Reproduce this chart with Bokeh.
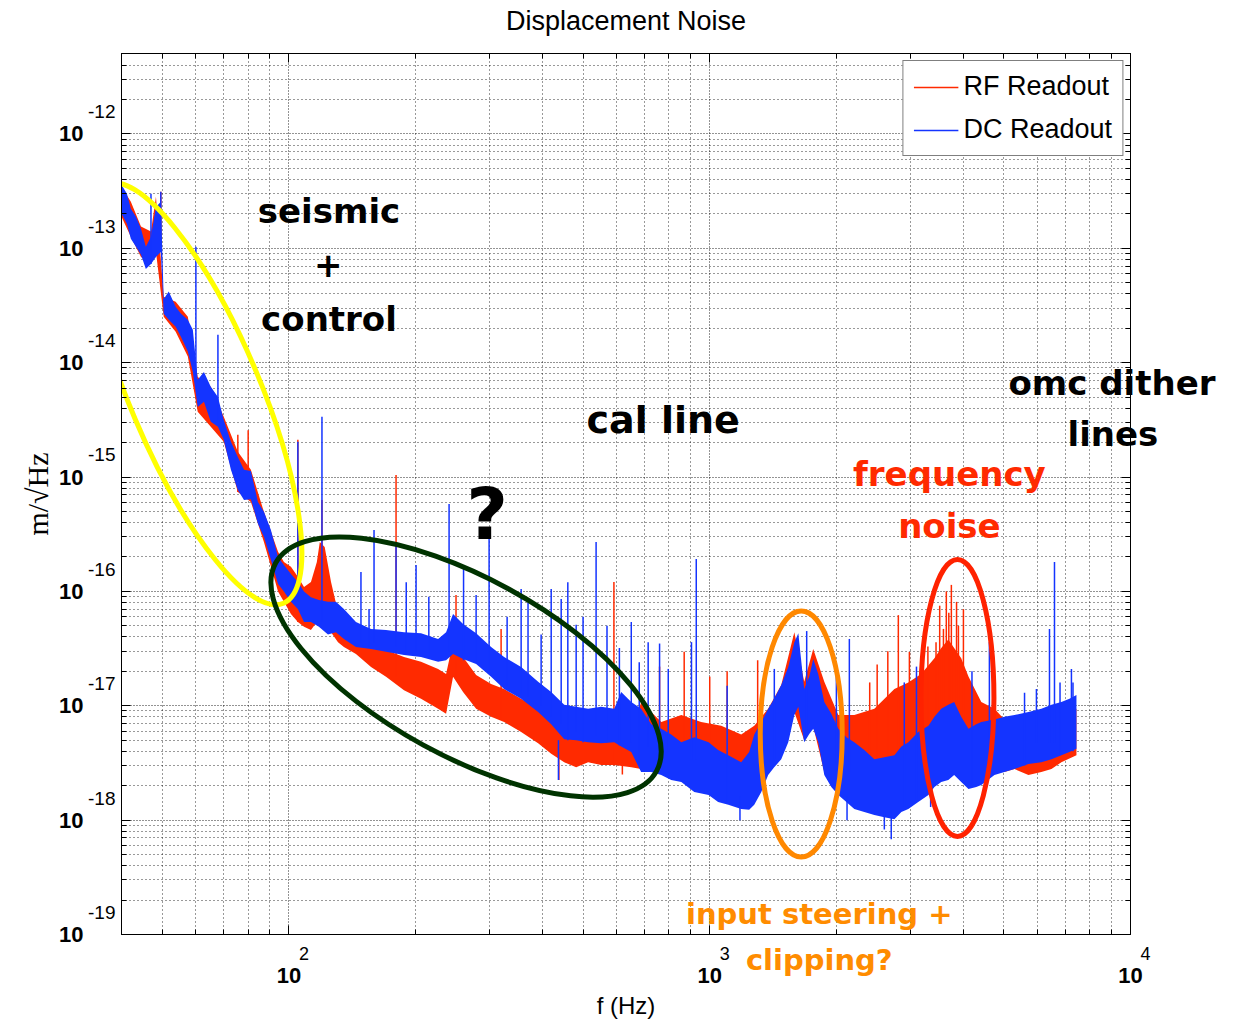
from bokeh.plotting import figure
from bokeh.models import (FixedTicker, LogAxis, Label, Legend, LegendItem,
                          CustomJSTickFormatter)
from bokeh.embed import file_html
from bokeh.resources import INLINE

# ---------------- data ----------------
x_start, x_end = 40.0, 1.0e4
y_start, y_end = 1.0e-19, 5.05e-12

x_major = [1e2, 1e3, 1e4]
x_exp = ["2", "3", "4"]
y_major = [1e-19, 1e-18, 1e-17, 1e-16, 1e-15, 1e-14, 1e-13, 1e-12]
y_exp = ["-19", "-18", "-17", "-16", "-15", "-14", "-13", "-12"]

# DC readout (blue): noise envelope
blue_f = [40.0, 41.2, 42.1, 43.3, 44.5, 45.7, 47.0, 48.3, 49.6, 50.4,
          51.8, 53.8, 55.4, 57.5, 59.1, 60.7, 62.8, 65.2, 67.8, 70.0,
          72.8, 75.6, 78.2, 81.2, 84.4, 87.2, 90.6, 94.2, 97.3, 101.1,
          105, 108.6, 112.8, 117.8, 123.8, 129.3, 135.1, 144.3, 156.7, 170.1,
          187.7, 206, 226.2, 236.3, 245.5, 259.3, 278.5, 302.3, 324.6, 356.3,
          391, 420, 451, 481.5, 514, 552, 593, 616, 651, 687,
          726, 767, 810, 856, 919, 994, 1047, 1107, 1188, 1241,
          1276, 1326, 1377, 1423, 1479, 1537, 1589, 1624, 1677, 1724,
          1762, 1811, 1872, 1945, 2021, 2112, 2206, 2330, 2462, 2600,
          2747, 2854, 2965, 3130, 3310, 3420, 3550, 3690, 3810, 3960,
          4120, 4300, 4420, 4750, 5016, 5300, 5720, 6140, 6490, 6850,
          7160, 7440]
blue_hi = [3.6e-13, 3.0e-13, 2.22e-13, 1.89e-13, 1.48e-13, 1.03e-13, 1.26e-13, 2.3e-13, 2.55e-13, 3.6e-14,
           4.2e-14, 3.08e-14, 2.68e-14, 2.37e-14, 1.94e-14, 7.1e-15, 8.3e-15, 6.15e-15, 5.0e-15, 3.16e-15,
           2.03e-15, 1.5e-15, 1.16e-15, 1.13e-15, 6.06e-16, 4.96e-16, 3.45e-16, 2.0e-16, 1.7e-16, 1.42e-16,
           1.21e-16, 1.0e-16, 8.9e-17, 8.4e-17, 8.1e-17, 8.1e-17, 7.0e-17, 5.4e-17, 4.7e-17, 4.6e-17,
           4.4e-17, 4.3e-17, 3.84e-17, 4.4e-17, 6.35e-17, 5.2e-17, 4.3e-17, 3.27e-17, 2.67e-17, 2.18e-17,
           1.62e-17, 1.32e-17, 1.02e-17, 9.8e-18, 9.4e-18, 9.8e-18, 9.4e-18, 1.32e-17, 1.08e-17, 9.4e-18,
           6.9e-18, 6.3e-18, 5.6e-18, 4.8e-18, 5.3e-18, 4.8e-18, 4.1e-18, 3.7e-18, 3.2e-18, 3.94e-18,
           5.6e-18, 7.2e-18, 9.4e-18, 1.15e-17, 1.52e-17, 2.18e-17, 3.6e-17, 4.3e-17, 1.4e-17, 1.79e-17,
           2.57e-17, 1.9e-17, 1.08e-17, 8.5e-18, 6.3e-18, 5.3e-18, 4.8e-18, 4.1e-18, 3.4e-18, 3.55e-18,
           3.7e-18, 4.4e-18, 4.8e-18, 5.9e-18, 6.7e-18, 8.0e-18, 9.4e-18, 1.02e-17, 1.08e-17, 8.0e-18,
           6.3e-18, 6.9e-18, 7.2e-18, 7.6e-18, 8.0e-18, 8.3e-18, 8.8e-18, 9.4e-18, 1.02e-17, 1.08e-17,
           1.15e-17, 1.24e-17]
blue_lo = [2.0e-13, 1.64e-13, 1.21e-13, 1.03e-13, 8.8e-14, 6.6e-14, 7.3e-14, 8.4e-14, 9.3e-14, 2.68e-14,
           2.37e-14, 2.06e-14, 1.68e-14, 1.25e-14, 8.3e-15, 4.1e-15, 4.55e-15, 3.04e-15, 2.75e-15, 2.12e-15,
           1.16e-15, 7.7e-16, 6.3e-16, 6.4e-16, 3.9e-16, 3.0e-16, 1.89e-16, 1.16e-16, 1.0e-16, 8.1e-17,
           7.0e-17, 5.4e-17, 5.4e-17, 4.9e-17, 4.2e-17, 4.4e-17, 3.84e-17, 3.27e-17, 3.14e-17, 2.96e-17,
           2.78e-17, 2.67e-17, 2.42e-17, 2.5e-17, 2.84e-17, 2.57e-17, 2.32e-17, 1.79e-17, 1.4e-17, 1.15e-17,
           8.8e-18, 6.9e-18, 5.1e-18, 5.0e-18, 4.8e-18, 4.7e-18, 4.8e-18, 4.4e-18, 3.94e-18, 2.63e-18,
           2.63e-18, 2.48e-18, 2.24e-18, 2.15e-18, 1.76e-18, 1.66e-18, 1.44e-18, 1.36e-18, 1.25e-18, 1.23e-18,
           1.36e-18, 1.76e-18, 2.48e-18, 2.9e-18, 3.4e-18, 4.8e-18, 8.3e-18, 9.8e-18, 4.8e-18, 5.66e-18,
           6.3e-18, 4.8e-18, 2.48e-18, 1.95e-18, 1.66e-18, 1.44e-18, 1.25e-18, 1.18e-18, 1.11e-18, 1.06e-18,
           1.02e-18, 1.18e-18, 1.25e-18, 1.44e-18, 1.66e-18, 1.95e-18, 2.15e-18, 2.24e-18, 2.48e-18, 2.15e-18,
           1.87e-18, 1.95e-18, 2.03e-18, 2.48e-18, 2.63e-18, 2.8e-18, 3.1e-18, 3.2e-18, 3.4e-18, 3.7e-18,
           3.94e-18, 4.2e-18]

# RF readout (red): noise envelope
red_f = [40.0, 42.1, 44.5, 47.0, 48.3, 50.4, 53.8, 57.5, 60.7, 65.2,
         70.0, 75.6, 81.2, 87.2, 94.2, 97.3, 101.1, 105, 108.6, 112.8,
         116.5, 118.4, 121.6, 125.9, 130.8, 135.1, 144.3, 156.7, 170.1, 187.7,
         206, 226.2, 236.3, 245.5, 259.3, 278.5, 302.3, 324.6, 356.3, 391,
         420, 451, 481.5, 514, 552, 593, 651, 687, 767, 856,
         954, 1065, 1188, 1276, 1377, 1479, 1589, 1677, 1762, 1872,
         2021, 2206, 2462, 2747, 2965, 3180, 3420, 3550, 3690, 3810,
         3960, 4120, 4420, 4750, 5016, 5300, 5720, 6140, 6490, 6850,
         7440]
red_hi = [3.46e-13, 2.55e-13, 1.55e-13, 1.4e-13, 2.83e-13, 3.77e-14, 3.41e-14, 2.52e-14, 7.5e-15, 6.15e-15,
          3.36e-15, 1.66e-15, 1.16e-15, 4.96e-16, 2.22e-16, 1.81e-16, 1.64e-16, 1.34e-16, 1.09e-16, 1.21e-16,
          1.81e-16, 2.71e-16, 2.45e-16, 1.21e-16, 6.6e-17, 6.0e-17, 4.9e-17, 3.6e-17, 3.08e-17, 2.67e-17,
          2.42e-17, 2.1e-17, 1.9e-17, 3.6e-17, 2.67e-17, 1.86e-17, 1.55e-17, 1.4e-17, 1.15e-17, 9.4e-18,
          8.0e-18, 6.3e-18, 5.9e-18, 5.6e-18, 5.3e-18, 5.1e-18, 5.1e-18, 1.08e-17, 7.2e-18, 8.3e-18,
          7.2e-18, 6.7e-18, 5.6e-18, 6.7e-18, 9.4e-18, 1.52e-17, 4.4e-17, 1.62e-17, 3.14e-17, 1.62e-17,
          8.3e-18, 8.3e-18, 9.4e-18, 1.4e-17, 1.6e-17, 1.9e-17, 2.6e-17, 3.2e-17, 3.8e-17, 3.2e-17,
          2.6e-17, 1.8e-17, 1.08e-17, 9.4e-18, 7.6e-18, 7.2e-18, 6.3e-18, 6.3e-18, 7.2e-18, 8.3e-18,
          9.4e-18]
red_lo = [1.89e-13, 1.26e-13, 8.4e-14, 7.3e-14, 9.3e-14, 2.52e-14, 1.86e-14, 1.13e-14, 3.72e-15, 2.75e-15,
          2.03e-15, 7.4e-16, 6.06e-16, 2.71e-16, 1.0e-16, 8.1e-17, 6.35e-17, 5.4e-17, 4.9e-17, 4.6e-17,
          5.4e-17, 6.0e-17, 6.0e-17, 4.4e-17, 3.6e-17, 3.27e-17, 2.84e-17, 2.18e-17, 1.79e-17, 1.37e-17,
          1.15e-17, 9.4e-18, 8.5e-18, 1.79e-17, 1.32e-17, 9.4e-18, 8.0e-18, 7.2e-18, 5.9e-18, 4.7e-18,
          3.8e-18, 3.2e-18, 2.9e-18, 3.2e-18, 3.03e-18, 3.03e-18, 2.9e-18, 2.8e-18, 2.63e-18, 2.63e-18,
          2.24e-18, 1.95e-18, 1.76e-18, 1.76e-18, 2.63e-18, 3.55e-18, 8.8e-18, 5.0e-18, 6.6e-18, 2.63e-18,
          1.95e-18, 1.6e-18, 1.44e-18, 1.44e-18, 1.6e-18, 1.95e-18, 2.35e-18, 2.63e-18, 2.9e-18, 2.9e-18,
          2.63e-18, 2.35e-18, 2.35e-18, 2.63e-18, 2.63e-18, 2.8e-18, 2.48e-18, 2.63e-18, 2.8e-18, 3.2e-18,
          3.7e-18]

# narrow lines (spikes) and dips: frequency, top, bottom
blue_spk_f = [47.0, 49.6, 60.1, 67.8, 105, 119.8, 148.3, 159.3, 179.7, 200.5,
              240.2, 278.5, 299, 356.3, 397.5, 420, 443.6, 481.5, 537, 651,
              714, 797, 905, 929, 1424, 2147, 4620, 5976, 6419, 6597,
              7238, 437, 1180, 2120, 2600, 2700, 3350, 155, 190, 215,
              260, 330, 370, 460, 500, 570, 610, 680, 760, 1100,
              1700, 2000, 2900, 3100, 4200, 5600, 6800, 7300]
blue_spk_top = [3.0e-13, 3.13e-13, 1.03e-13, 1.75e-14, 2.03e-15, 3.36e-15, 1.48e-16, 3.45e-16, 2.71e-16, 1.7e-16,
                5.8e-16, 9.3e-17, 2.88e-16, 1.05e-16, 4.2e-17, 1.05e-16, 8.6e-17, 5.1e-17, 2.71e-16, 5.4e-17,
                3.6e-17, 2.1e-17, 3.6e-17, 1.92e-16, 2.1e-17, 3.84e-17, 3.6e-17, 1.4e-17, 4.7e-17, 1.81e-16,
                2.1e-17, 5.0e-18, 1.6e-18, 1.6e-18, 1.2e-18, 1.2e-18, 1.8e-18, 7.0e-17, 1.2e-16, 9.0e-17,
                1.6e-16, 6.0e-17, 8.0e-17, 1.2e-16, 6.0e-17, 5.0e-17, 3.2e-17, 2.4e-17, 3.5e-17, 1.5e-17,
                4.5e-17, 2.2e-17, 1.6e-17, 2.2e-17, 2.0e-17, 1.3e-17, 1.6e-17, 1.6e-17]
blue_spk_bot = [7.3e-14, 9.3e-14, 8.3e-15, 3.0e-15, 8.1e-17, 5.4e-17, 3.6e-17, 3.6e-17, 3.3e-17, 3.0e-17,
                3.0e-17, 2.4e-17, 2.0e-17, 1.3e-17, 1.0e-17, 8.0e-18, 7.0e-18, 6.0e-18, 5.5e-18, 4.8e-18,
                4.4e-18, 4.0e-18, 3.4e-18, 3.4e-18, 3.4e-18, 2.63e-18, 3.4e-18, 4.8e-18, 4.8e-18, 4.8e-18,
                4.8e-18, 2.24e-18, 1.0e-18, 1.0e-18, 8.3e-19, 6.8e-19, 1.3e-18, 3.2e-17, 2.8e-17, 2.6e-17,
                2.5e-17, 1.5e-17, 1.2e-17, 5.0e-18, 4.8e-18, 4.8e-18, 4.5e-18, 3.0e-18, 2.6e-18, 1.4e-18,
                6.0e-18, 1.7e-18, 1.3e-18, 1.5e-18, 2.0e-18, 3.0e-18, 3.7e-18, 4.0e-18]

red_spk_f = [49.6, 75.6, 80.0, 105, 119.8, 179.7, 249.5, 319.3, 592, 869.6,
             2807, 2982, 3450, 3593, 3752, 3860, 4008, 438, 620, 3300,
             3520, 3650, 3700, 3900, 2500, 2650, 1300, 1100, 1000, 760,
             2400]
red_spk_top = [3.13e-13, 2.34e-15, 2.57e-15, 2.12e-15, 6.3e-16, 1.04e-15, 9.3e-17, 4.7e-17, 1.21e-16, 2.96e-17,
               6.2e-17, 2.96e-17, 3.6e-17, 4.7e-17, 1.14e-16, 8.1e-17, 7.0e-17, 4.0e-18, 3.2e-18, 3.3e-17,
               7.5e-17, 1.0e-16, 6.5e-17, 5.0e-17, 2.3e-17, 3.0e-17, 2.5e-17, 2.0e-17, 1.8e-17, 2.2e-17,
               1.6e-17]
red_spk_bot = [9.3e-14, 7.4e-16, 6.5e-16, 5.4e-17, 6.0e-17, 1.8e-17, 1.8e-17, 7.5e-18, 3.0e-18, 2.63e-18,
               1.6e-18, 1.6e-18, 2.35e-18, 2.6e-18, 2.9e-18, 2.9e-18, 2.63e-18, 2.24e-18, 2.5e-18, 2.0e-18,
               2.6e-18, 2.6e-18, 2.9e-18, 2.9e-18, 1.5e-18, 1.5e-18, 1.8e-18, 2.0e-18, 2.2e-18, 2.6e-18,
               1.5e-18]

# annotation ellipses (centre in data units, size in screen pixels)
ell_x = [59.8, 263.6, 1650, 3879]
ell_y = [5.35e-15, 2.18e-17, 5.66e-18, 1.17e-17]
ell_w = [130, 434, 82, 73]
ell_h = [455, 178, 246, 277]
ell_angle = [0.40, -0.50, 0.0, 0.0]
ell_color = ["#ffff00", "#003300", "#ff8800", "#ff2200"]

# annotation texts inside the frame: text, frequency, amplitude, colour, size
notes = [("seismic", 124.5, 2.13e-13, "black", "34px"),
         ("+", 124.0, 7.2e-14, "black", "34px"),
         ("control", 124.5, 2.42e-14, "black", "34px"),
         ("cal line", 775, 3.17e-15, "black", "38px"),
         ("?", 296, 4.77e-16, "black", "72px"),
         ("frequency", 3712, 1.07e-15, "#ff2a00", "34px"),
         ("noise", 3712, 3.74e-16, "#ff2a00", "34px"),
         ("input steering +", 1821, 1.51e-19, "#ff8c00", "29px")]
# annotation texts reaching outside the frame
omc_text, omc_y = "omc dither", 6.67e-15
lines_text, lines_y = "lines", 2.39e-15
clip_text, clip_x = "clipping?", 1821

RED = "#ff2a00"
BLUE = "#1434ff"

# ---------------- figure ----------------
p = figure(x_axis_type="log", y_axis_type="log",
           x_range=(x_start, x_end), y_range=(y_start, y_end),
           frame_width=1009, frame_height=881,
           min_border_left=121, min_border_right=95,
           min_border_top=52, min_border_bottom=88,
           output_backend="svg", toolbar_location=None,
           title="Displacement Noise")
p.outline_line_color = "black"
p.title.align = "center"
p.title.vertical_align = "top"
p.title.text_font = "Liberation Sans"
p.title.text_font_size = "27px"
p.title.text_font_style = "normal"
p.title.text_color = "black"
p.title.standoff = 10

x_minor = [m * d for d in (10.0, 100.0, 1000.0) for m in range(2, 10)]
y_minor = [m * d for d in y_major for m in range(2, 10)]
xt = FixedTicker(ticks=x_major, minor_ticks=x_minor)
yt = FixedTicker(ticks=y_major, minor_ticks=y_minor)


def no_marks(ax):
    ax.major_tick_in = 0
    ax.major_tick_out = 0
    ax.minor_tick_in = 0
    ax.minor_tick_out = 0
    ax.axis_line_color = None
    ax.major_label_text_color = "black"


def tick_marks(ax):
    ax.major_tick_in = 9
    ax.major_tick_out = 0
    ax.minor_tick_in = 5
    ax.minor_tick_out = 0
    ax.axis_line_color = "black"
    ax.major_tick_line_color = "black"
    ax.minor_tick_line_color = "black"
    ax.major_label_text_color = "black"


def text_of(txt):
    return CustomJSTickFormatter(args=dict(txt=txt), code="return txt;")


# inner axes: tick marks + exponents of the decade labels
xa = p.xaxis[0]
xa.ticker = xt
tick_marks(xa)
xa.formatter = CustomJSTickFormatter(args=dict(tv=x_major, lab=x_exp), code="""
    const i = tv.indexOf(tick);
    return i < 0 ? '' : '\\u00a0\\u00a0\\u00a0\\u00a0\\u00a0\\u00a0' + lab[i];""")
xa.major_label_text_font = "Liberation Sans"
xa.major_label_text_font_size = "18px"
xa.major_label_standoff = 9

ya = p.yaxis[0]
ya.ticker = yt
tick_marks(ya)
ya.formatter = CustomJSTickFormatter(args=dict(tv=y_major, lab=y_exp), code="""
    const i = tv.indexOf(tick);
    return i < 0 ? '' : lab[i] + '\\n\\n';""")
ya.major_label_text_font = "Liberation Sans"
ya.major_label_text_font_size = "19px"
ya.major_label_text_line_height = 1.05
ya.major_label_standoff = 6

# outer axes: the "10" of every decade label + axis titles
xb = LogAxis(ticker=xt, formatter=text_of("10"))
no_marks(xb)
xb.major_label_text_font = "Liberation Sans"
xb.major_label_text_font_size = "22px"
xb.major_label_text_font_style = "bold"
xb.major_label_standoff = 1
xb.axis_label = "f (Hz)"
xb.axis_label_text_font = "Liberation Sans"
xb.axis_label_text_font_size = "24px"
xb.axis_label_text_font_style = "normal"
xb.axis_label_text_color = "black"
xb.axis_label_standoff = 6
p.add_layout(xb, "below")

yb = LogAxis(ticker=yt, formatter=text_of("10"))
no_marks(yb)
yb.major_label_text_font = "Liberation Sans"
yb.major_label_text_font_size = "22px"
yb.major_label_text_font_style = "bold"
yb.major_label_standoff = 2
yb.axis_label = "m/√Hz"
yb.axis_label_text_font = "Liberation Serif"
yb.axis_label_text_font_size = "30px"
yb.axis_label_text_font_style = "normal"
yb.axis_label_text_color = "black"
yb.axis_label_standoff = 2
p.add_layout(yb, "left")

# box ticks on top and right (the top one also keeps the title clear of the frame)
top_ax = LogAxis(ticker=xt, formatter=text_of("\u00a0"), major_label_standoff=7,
                 major_label_text_font_size="1px")
tick_marks(top_ax)
p.add_layout(top_ax, "above")
right_ax = LogAxis(ticker=yt, formatter=text_of(""), major_label_standoff=0)
tick_marks(right_ax)
p.add_layout(right_ax, "right")

# texts that reach outside the frame, carried by label-only axes
omc_ax = LogAxis(ticker=FixedTicker(ticks=[omc_y], minor_ticks=[]), formatter=text_of(omc_text))
lines_ax = LogAxis(ticker=FixedTicker(ticks=[lines_y], minor_ticks=[]), formatter=text_of(lines_text))
clip_ax = LogAxis(ticker=FixedTicker(ticks=[clip_x], minor_ticks=[]), formatter=text_of(clip_text))
for a in (omc_ax, lines_ax, clip_ax):
    no_marks(a)
    a.major_label_text_font = "DejaVu Sans"
    a.major_label_text_font_style = "bold"
omc_ax.major_label_text_font_size = "34px"
lines_ax.major_label_text_font_size = "34px"
clip_ax.major_label_text_font_size = "29px"
clip_ax.major_label_text_color = "#ff8c00"
omc_ax.major_label_standoff = -122
lines_ax.major_label_standoff = -151
clip_ax.major_label_standoff = -79
p.add_layout(omc_ax, "right")
p.add_layout(lines_ax, "right")
p.add_layout(clip_ax, "below")

for g, tk in ((p.xgrid[0], xt), (p.ygrid[0], yt)):
    g.ticker = tk
    g.grid_line_color = "black"
    g.grid_line_dash = "1 2"
    g.grid_line_alpha = 0.85
    g.minor_grid_line_color = "black"
    g.minor_grid_line_dash = "1 3"
    g.minor_grid_line_alpha = 0.8

# ---------------- data ----------------
p.varea(x=red_f, y1=red_lo, y2=red_hi, fill_color=RED)
r_red = p.segment(x0=red_spk_f, y0=red_spk_bot, x1=red_spk_f, y1=red_spk_top,
                  line_color=RED, line_width=1.5)
p.varea(x=blue_f, y1=blue_lo, y2=blue_hi, fill_color=BLUE)
r_blue = p.segment(x0=blue_spk_f, y0=blue_spk_bot, x1=blue_spk_f, y1=blue_spk_top,
                   line_color=BLUE, line_width=1.5)

p.ellipse(x=ell_x, y=ell_y, width=ell_w, height=ell_h, angle=ell_angle,
          width_units="screen", height_units="screen",
          fill_color=None, line_color=ell_color, line_width=5)

for text, x, y, col, size in notes:
    p.add_layout(Label(x=x, y=y, text=text, text_color=col, text_font="DejaVu Sans",
                       text_font_style="bold", text_font_size=size,
                       text_align="center", text_baseline="middle"))

legend = Legend(items=[LegendItem(label="RF Readout", renderers=[r_red]),
                       LegendItem(label="DC Readout", renderers=[r_blue])],
                location="top_right", border_line_color="black", border_line_width=1,
                label_text_font="Liberation Sans", label_text_font_size="27px",
                label_text_color="black",
                glyph_width=45, glyph_height=30, label_height=30, label_standoff=5,
                padding=10, spacing=12, margin=7, background_fill_alpha=1.0)
p.add_layout(legend)

open("out.html", "w").write(file_html(p, INLINE))
